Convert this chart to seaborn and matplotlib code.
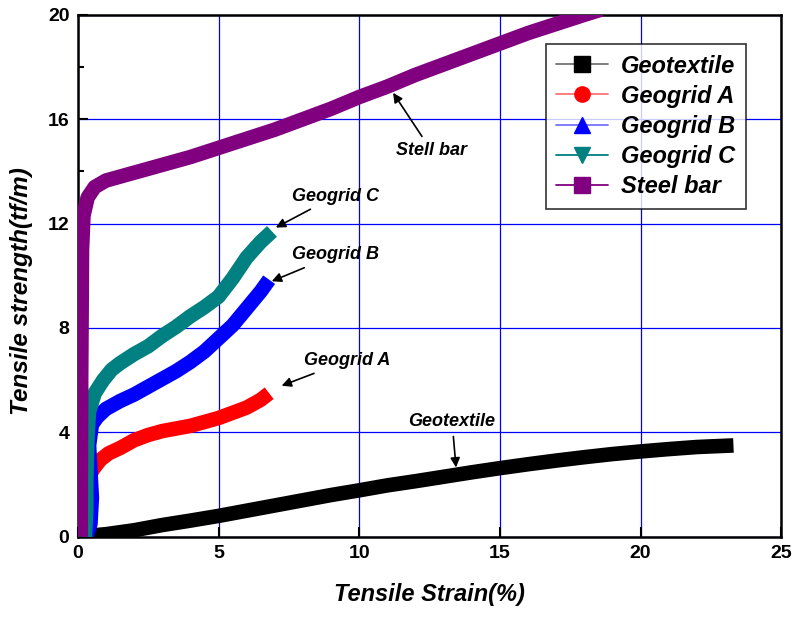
import numpy as np
import pandas as pd
import matplotlib
matplotlib.use("Agg")
import matplotlib.pyplot as plt
from matplotlib.lines import Line2D
from matplotlib.ticker import MultipleLocator
import seaborn as sns

# values
geotextile_x = [0.5, 1, 2, 3, 4, 5, 6, 7, 8, 9, 10, 11, 12, 13, 14, 15, 16, 17, 18, 19, 20, 21, 22, 23.3]
geotextile_y = [0.05, 0.1, 0.25, 0.45, 0.62, 0.8, 1.0, 1.2, 1.4, 1.6, 1.78, 1.97, 2.13, 2.3, 2.47, 2.63,
                2.78, 2.92, 3.05, 3.17, 3.27, 3.36, 3.44, 3.5]

geogrid_a_x = [0.35, 0.4, 0.55, 0.8, 1.1, 1.5, 2, 2.5, 3, 3.5, 4, 4.5, 5, 5.5, 6, 6.5, 6.8]
geogrid_a_y = [1.9, 2.3, 2.6, 2.95, 3.2, 3.4, 3.7, 3.9, 4.05, 4.15, 4.25, 4.4, 4.55, 4.75, 4.95, 5.25, 5.5]

geogrid_b_x = [0.3, 0.45, 0.5, 0.45, 0.4, 0.5, 0.7, 1, 1.5, 2, 2.5, 3, 3.5, 4, 4.5, 5, 5.5, 6, 6.5, 6.8]
geogrid_b_y = [0, 0.5, 1.5, 2.5, 3.5, 4.3, 4.6, 4.9, 5.2, 5.45, 5.75, 6.05, 6.35, 6.7, 7.1, 7.6, 8.1,
               8.75, 9.4, 9.85]

geogrid_c_x = [0.25, 0.3, 0.3, 0.32, 0.35, 0.4, 0.6, 0.9, 1.2, 1.5, 2, 2.5, 3, 3.5, 4, 4.5, 5, 5.5, 6,
               6.5, 6.9]
geogrid_c_y = [0, 1, 2, 3, 4, 4.8, 5.5, 6.0, 6.4, 6.65, 7.0, 7.3, 7.7, 8.05, 8.45, 8.8, 9.2, 9.9, 10.7,
               11.3, 11.7]

steel_x = [0.1, 0.12, 0.15, 0.2, 0.35, 0.6, 1, 2, 3, 4, 5, 6, 7, 8, 9, 10, 11, 12, 13, 14, 15, 16, 17,
           18, 18.6]
steel_y = [0, 6, 11, 12.3, 13.0, 13.4, 13.65, 13.95, 14.25, 14.55, 14.9, 15.25, 15.6, 16.0, 16.4, 16.85,
           17.25, 17.7, 18.1, 18.5, 18.9, 19.3, 19.65, 20.0, 20.2]

series = ["Geotextile", "Geogrid A", "Geogrid B", "Geogrid C", "Steel bar"]
colors = ["#000000", "#FF0000", "#0000FF", "#008080", "#800080"]
markers = ["s", "o", "^", "v", "s"]

frames = []
for name, xs, ys in zip(series,
                        [geotextile_x, geogrid_a_x, geogrid_b_x, geogrid_c_x, steel_x],
                        [geotextile_y, geogrid_a_y, geogrid_b_y, geogrid_c_y, steel_y]):
    frames.append(pd.DataFrame({"strain": xs, "strength": ys, "material": name}))
df = pd.concat(frames, ignore_index=True)

sns.set_style("white")
plt.rcParams["font.family"] = ["Liberation Sans", "DejaVu Sans"]
plt.rcParams.update({"text.color": "black", "axes.labelcolor": "black",
                     "xtick.color": "black", "ytick.color": "black"})

fig = plt.figure(figsize=(7.94, 6.17), dpi=100)
ax = fig.add_axes([0.098, 0.130, 0.886, 0.846])

for name, color in zip(series, colors):
    sub = df[df["material"] == name]
    sns.lineplot(data=sub, x="strain", y="strength", color=color, linewidth=10.5, sort=False,
                 estimator=None, ax=ax, legend=False, solid_capstyle="butt", zorder=3)

ax.set_xlim(0, 25)
ax.set_ylim(0, 20)
ax.xaxis.set_major_locator(MultipleLocator(5))
ax.yaxis.set_major_locator(MultipleLocator(4))
ax.yaxis.set_minor_locator(MultipleLocator(2))
ax.grid(True, which="major", color="#0000FF", linewidth=0.9)
ax.set_axisbelow(True)
ax.tick_params(axis="both", which="major", direction="in", length=7, width=1.5,
               labelsize=14, top=False, right=False, left=True, bottom=True, pad=6)
ax.tick_params(axis="y", which="minor", direction="in", length=4, width=1.5, left=True)
for lab in ax.get_xticklabels() + ax.get_yticklabels():
    lab.set_fontweight("bold")
for sp in ax.spines.values():
    sp.set_color("black")
    sp.set_linewidth(1.8)

ax.set_xlabel("Tensile Strain(%)", fontsize=17, fontweight="bold", fontstyle="italic")
ax.set_ylabel("Tensile strength(tf/m)", fontsize=17.5, fontweight="bold", fontstyle="italic")
ax.xaxis.set_label_coords(0.5, -0.088)
ax.yaxis.set_label_coords(-0.064, 0.471)

ann = dict(fontsize=13, fontweight="bold", fontstyle="italic")
arrow = dict(arrowstyle="-|>", color="black", lw=1.2, mutation_scale=14)
ax.annotate("Stell bar", xy=(11.15, 17.1), xytext=(11.3, 14.8), ha="left", va="center",
            arrowprops=arrow, **ann)
ax.annotate("Geogrid C", xy=(6.95, 11.8), xytext=(7.6, 13.05), ha="left", va="center",
            arrowprops=arrow, **ann)
ax.annotate("Geogrid B", xy=(6.8, 9.75), xytext=(7.6, 10.8), ha="left", va="center",
            arrowprops=arrow, **ann)
ax.annotate("Geogrid A", xy=(7.15, 5.75), xytext=(8.05, 6.75), ha="left", va="center",
            arrowprops=arrow, **ann)
ax.annotate("Geotextile", xy=(13.45, 2.55), xytext=(13.3, 4.4), ha="center", va="center",
            arrowprops=arrow, **ann)

handles = []
for name, color, mk in zip(series, colors, markers):
    lc = color if name in ("Geogrid C", "Steel bar") else matplotlib.colors.to_rgba(color, 0.55)
    handles.append(Line2D([], [], color=lc, linewidth=1.3, marker=mk, markersize=11,
                          markerfacecolor=color, markeredgecolor=color))
leg = ax.legend(handles, series, loc="upper right", bbox_to_anchor=(0.950, 0.944),
                borderaxespad=0, prop={"size": 17, "weight": "bold", "style": "italic"},
                frameon=True, fancybox=False, edgecolor="black", handlelength=2.2,
                borderpad=0.45, labelspacing=0.3, handletextpad=0.55)
leg.get_frame().set_linewidth(1.2)

fig.savefig("out.png", dpi=100)
